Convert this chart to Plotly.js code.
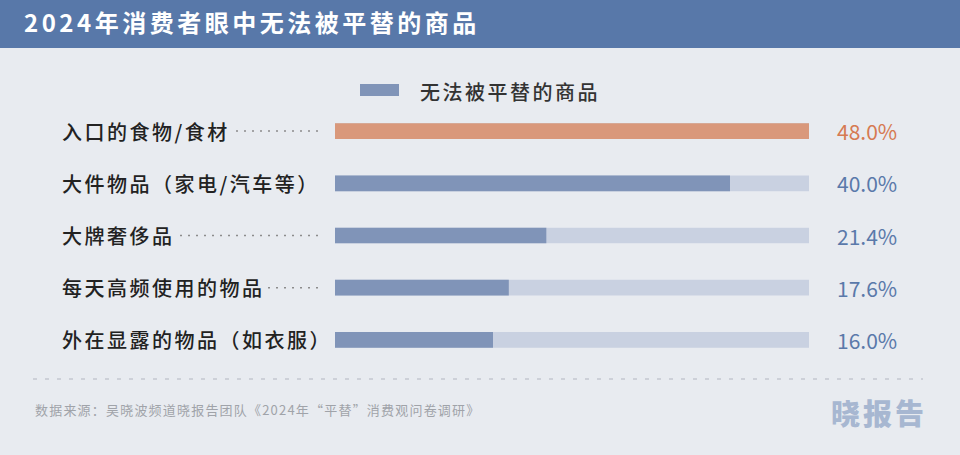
<!DOCTYPE html>
<html>
<head>
<meta charset="utf-8">
<script src="https://cdn.plot.ly/plotly-3.0.1.min.js"></script>
<style>
  html, body { margin: 0; padding: 0; background: #e8ebf0; }
  #chart { width: 960px; height: 455px; }
</style>
</head>
<body>
<div id="chart"></div>
<script>
// ---- data ----
const chartTitle = "2024年消费者眼中无法被平替的商品";
const seriesName = "无法被平替的商品";
const categories = ["入口的食物/食材", "大件物品（家电/汽车等）", "大牌奢侈品", "每天高频使用的物品", "外在显露的物品（如衣服）"];
const values = [48.0, 40.0, 21.4, 17.6, 16.0];
const sourceText = "数据来源：吴晓波频道晓报告团队《2024年“平替”消费观问卷调研》";
const brandText = "晓报告";

// ---- style ----
const FONT = "'Noto Sans CJK SC', 'Noto Sans', sans-serif";
const BG = "#e8ebf0";
const HEADER = "#5878a9";
const ORANGE_BAR = "#d9987b";
const BLUE_BAR = "#8094b8";
const TRACK = "#c9d1e1";
const ORANGE_TXT = "#d67a52";
const BLUE_TXT = "#5a79aa";

const W = 960, H = 455;
const M = {l: 335, r: 151, t: 105, b: 89};
const PW = W - M.l - M.r, PH = H - M.t - M.b;
const px = x => (x - M.l) / PW;
const py = y => (H - M.b - y) / PH;

const trackMax = Math.max(...values);
const topIdx = values.indexOf(trackMax);
const barColors = values.map((v, i) => i === topIdx ? ORANGE_BAR : BLUE_BAR);
const txtColors = values.map((v, i) => i === topIdx ? ORANGE_TXT : BLUE_TXT);

const sp = (t, s) => `<span style="letter-spacing:${s}px">${t}</span>`;

const traces = [
  {
    type: "bar", orientation: "h", y: categories, x: categories.map(() => trackMax),
    marker: {color: TRACK}, width: 0.3, hoverinfo: "skip", showlegend: false
  },
  {
    type: "bar", orientation: "h", y: categories, x: values, name: seriesName,
    marker: {color: barColors}, width: 0.3, hoverinfo: "skip", showlegend: false
  }
];

const shapes = [
  // header band
  {type: "rect", xref: "paper", yref: "paper", x0: px(0), x1: px(W), y0: py(48), y1: py(0),
   fillcolor: HEADER, line: {width: 0}, layer: "below"},
  // legend swatch
  {type: "rect", xref: "paper", yref: "paper", x0: px(360), x1: px(399), y0: py(96), y1: py(84),
   fillcolor: BLUE_BAR, line: {width: 0}},
  // bottom dashed separator
  {type: "line", xref: "paper", yref: "paper", x0: px(33), x1: px(923), y0: py(379), y1: py(379),
   line: {color: "#c4c8cf", width: 1.5, dash: "4px,8px"}}
];
// leader dots
categories.forEach(c => {
  shapes.push({type: "line", xref: "paper", yref: "y", x0: px(318), x1: px(62), y0: c, y1: c,
    line: {color: "#8c8c8c", width: 1.5, dash: "2px,6px"}, layer: "below"});
});

const annotations = [];
// category labels (with background to mask the leader line)
categories.forEach(c => {
  annotations.push({
    xref: "paper", yref: "y", x: px(62 - 2), y: c, xanchor: "left", yanchor: "middle",
    text: sp(c, 2.5), showarrow: false, bgcolor: BG, borderpad: 2, borderwidth: 0,
    font: {family: FONT, size: 20, color: "#222222", weight: 500}
  });
});
// value labels
values.forEach((v, i) => {
  annotations.push({
    xref: "paper", yref: "y", x: px(835), y: categories[i], xanchor: "left", yanchor: "middle",
    text: v.toFixed(1) + "%", showarrow: false,
    font: {family: FONT, size: 21, color: txtColors[i]}
  });
});
// legend text
annotations.push({
  xref: "paper", yref: "paper", x: px(418), y: py(91), xanchor: "left", yanchor: "middle",
  text: sp(seriesName, 2.5), showarrow: false, font: {family: FONT, size: 20, color: "#333333", weight: 500}
});
// source
annotations.push({
  xref: "paper", yref: "paper", x: px(33), y: py(409), xanchor: "left", yanchor: "middle",
  text: sp(sourceText, 1.2), showarrow: false, font: {family: FONT, size: 13, color: "#a0a3a9"}
});
// brand
annotations.push({
  xref: "paper", yref: "paper", x: px(929), y: py(412), xanchor: "right", yanchor: "middle",
  text: sp(brandText, 3), showarrow: false,
  font: {family: FONT, size: 29, color: "#a7b7d1", weight: 900}
});

const layout = {
  width: W, height: H,
  margin: M,
  paper_bgcolor: BG, plot_bgcolor: "rgba(0,0,0,0)",
  barmode: "overlay",
  title: {
    text: sp(chartTitle, 3.5), xref: "container", yref: "container",
    x: 24 / W, xanchor: "left", y: 1 - 24 / H, yanchor: "middle",
    font: {family: FONT, size: 24, color: "#ffffff", weight: 700}
  },
  xaxis: {range: [0, trackMax], showgrid: false, zeroline: false, showticklabels: false, showline: false, fixedrange: true},
  yaxis: {type: "category", categoryarray: categories, autorange: "reversed", showgrid: false,
          zeroline: false, showticklabels: false, showline: false, fixedrange: true},
  shapes: shapes,
  annotations: annotations,
  showlegend: false,
  hovermode: false
};

Plotly.newPlot("chart", traces, layout, {displayModeBar: false, staticPlot: true});
</script>
</body>
</html>
